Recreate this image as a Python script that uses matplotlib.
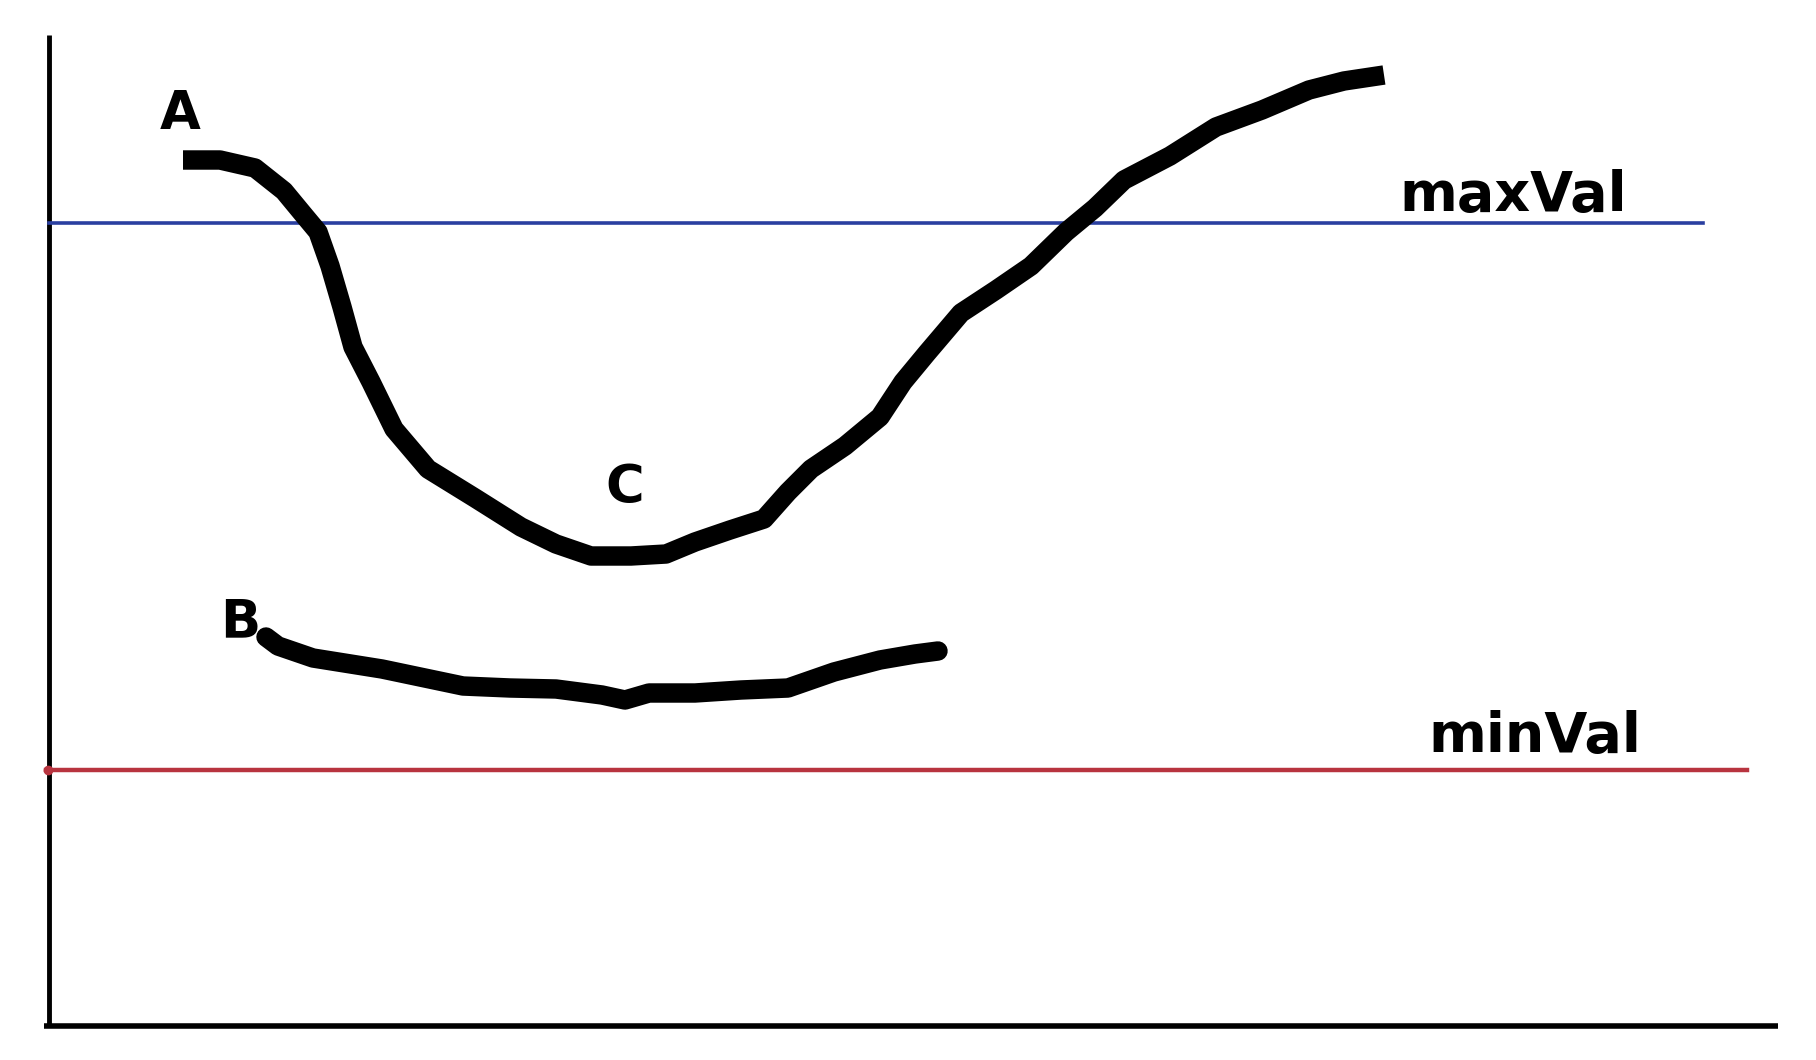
import numpy as np
import matplotlib
matplotlib.use('Agg')
import matplotlib.pyplot as plt

# coordenadas em pixels da imagem (y cresce para baixo)
curva_a_x = [183, 220, 255, 284, 303, 318, 330, 342, 353, 371, 394, 428, 475, 521, 556, 591,
             631, 666, 695, 730, 764, 788, 811, 845, 880, 903, 927, 961, 996, 1031, 1066,
             1095, 1124, 1170, 1216, 1262, 1309, 1344, 1384]
curva_a_y = [160, 160, 168, 191, 214, 232, 266, 307, 347, 382, 429, 469, 498, 527, 544, 556,
             556, 554, 542, 530, 519, 492, 469, 446, 417, 382, 353, 313, 290, 266, 232,
             208, 180, 156, 127, 110, 90, 81, 75]

curva_b_x = [266, 278, 313, 382, 463, 510, 556, 602, 625, 649, 695, 741, 788, 834, 880, 915, 938]
curva_b_y = [637, 646, 658, 669, 686, 688, 689, 695, 700, 693, 693, 690, 688, 672, 660, 654, 651]

max_val = 223
min_val = 770
max_val_fim = 1703
min_val_fim = 1747

rotulos = ['A', 'B', 'C']
rotulos_x = [180, 240, 625]
rotulos_y = [114, 622, 488]

fig = plt.figure(figsize=(18.16, 10.60), dpi=100)
ax = fig.add_axes([0, 0, 1, 1])
ax.set_xlim(0, 1816)
ax.set_ylim(1060, 0)
ax.axis('off')

# eixos desenhados a mao
ax.plot([49, 49], [35, 1027], color='black', lw=3.5, solid_capstyle='butt')
ax.plot([44, 1778], [1026, 1026], color='black', lw=4, solid_capstyle='butt')

# limiares
ax.plot([49, max_val_fim], [max_val, max_val], color='#2a3fa0', lw=2.6)
ax.plot([46, min_val_fim], [min_val, min_val], color='#b8343f', lw=3.2)
ax.plot([48], [min_val], 'o', color='#b8343f', ms=6)

# curvas
ax.plot(curva_a_x, curva_a_y, color='black', lw=14, solid_joinstyle='round', solid_capstyle='butt')
ax.plot(curva_b_x, curva_b_y, color='black', lw=14, solid_joinstyle='round', solid_capstyle='round')

for txt, x, y in zip(rotulos, rotulos_x, rotulos_y):
    ax.text(x, y, txt, fontsize=38, fontweight='bold', ha='center', va='center', color='black')

ax.text(1513, 196, 'maxVal', fontsize=40, fontweight='bold', ha='center', va='center', color='black')
ax.text(1535, 737, 'minVal', fontsize=40, fontweight='bold', ha='center', va='center', color='black')

plt.savefig('out.png', dpi=100)
plt.close('all')
